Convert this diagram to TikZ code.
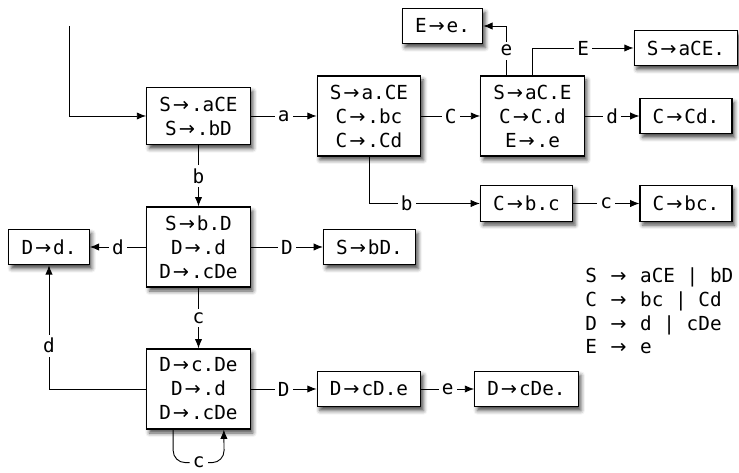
\documentclass[tikz,border=0pt]{standalone}
\usepackage{fontspec}
\setmainfont{DejaVu Sans Mono}
\newfontfamily\arrowfont{DejaVu Sans}
\usetikzlibrary{arrows.meta,shadows.blur}
\newcommand{\ra}{\makebox[15pt]{\arrowfont →}}

\begin{document}
\begin{tikzpicture}[x=0.75pt,y=-0.75pt,
  font=\fontsize{14.5pt}{18pt}\selectfont,
  item/.style={rectangle,draw=black,line width=0.9pt,fill=white,align=center,
               inner xsep=9.5pt,inner ysep=0pt,
               blur shadow={shadow xshift=2pt,shadow yshift=-3pt,
                            shadow blur radius=3pt,shadow opacity=70}},
  big/.style={item,minimum height=60pt},
  two/.style={item,minimum height=43pt},
  small/.style={item,minimum height=26.5pt},
  lbl/.style={fill=white,inner sep=2.5pt},
  arr/.style={-{Latex[length=7pt,width=5.5pt]},line width=0.7pt}
]
  \useasboundingbox (0,0) rectangle (739,473);

  \coordinate (start) at (69,26);
  \node[two] (I0) at (198.5,116) {S\ra.aCE\\S\ra.bD};
  \node[big] (I1) at (369,116) {S\ra a.CE\\C\ra.bc\\C\ra.Cd};
  \node[big] (I2) at (532.5,116) {S\ra aC.E\\C\ra C.d\\E\ra.e};
  \node[small] (I3) at (442.5,26) {E\ra e.};
  \node[small] (I4) at (686,48) {S\ra aCE.};
  \node[small] (I5) at (686,116) {C\ra Cd.};
  \node[small] (I6) at (526.5,203.5) {C\ra b.c};
  \node[small] (I7) at (686,203.5) {C\ra bc.};
  \node[big] (I8) at (198.5,247) {S\ra b.D\\D\ra.d\\D\ra.cDe};
  \node[small] (I9) at (49,247) {D\ra d.};
  \node[small] (I10) at (369.5,247) {S\ra bD.};
  \node[big] (I11) at (198.5,389) {D\ra c.De\\D\ra.d\\D\ra.cDe};
  \node[small] (I12) at (369,389) {D\ra cD.e};
  \node[small] (I13) at (526.5,389) {D\ra cDe.};

  \node[anchor=west,align=left,inner sep=0pt,font=\fontsize{14.5pt}{17.8pt}\selectfont]
    (gram) at (585,311) {S \ra{} aCE | bD\\C \ra{} bc | Cd\\D \ra{} d | cDe\\E \ra{} e};

  \draw[arr] (start) |- (I0);
  \draw[arr] (I0) -- node[lbl]{a} (I1);
  \draw[arr] (I1) -- node[lbl]{C} (I2);
  \draw[arr] (I2) -- node[lbl]{d} (I5);
  \draw[arr] (I2.north) |- node[lbl,pos=0.75]{E} (I4);
  \draw[arr] ([xshift=-19.5pt]I2.north) |- node[lbl,pos=0.25]{e} (I3);
  \draw[arr] (I1.south) |- node[lbl,pos=0.67]{b} (I6);
  \draw[arr] (I6) -- node[lbl]{c} (I7);
  \draw[arr] (I0) -- node[lbl]{b} (I8);
  \draw[arr] (I8) -- node[lbl]{d} (I9);
  \draw[arr] (I8) -- node[lbl]{D} (I10);
  \draw[arr] (I8) -- node[lbl]{c} (I11);
  \draw[arr] (I11.west) -| node[lbl,pos=0.675]{d} (I9.south);
  \draw[arr] (I11) -- node[lbl]{D} (I12);
  \draw[arr] (I12) -- node[lbl]{e} (I13);
  \draw[arr,rounded corners=9pt] ([xshift=-19pt]I11.south) -- ++(0,33)
    -- node[lbl]{c} ++(51,0) -- ([xshift=19pt]I11.south);
\end{tikzpicture}
\end{document}
